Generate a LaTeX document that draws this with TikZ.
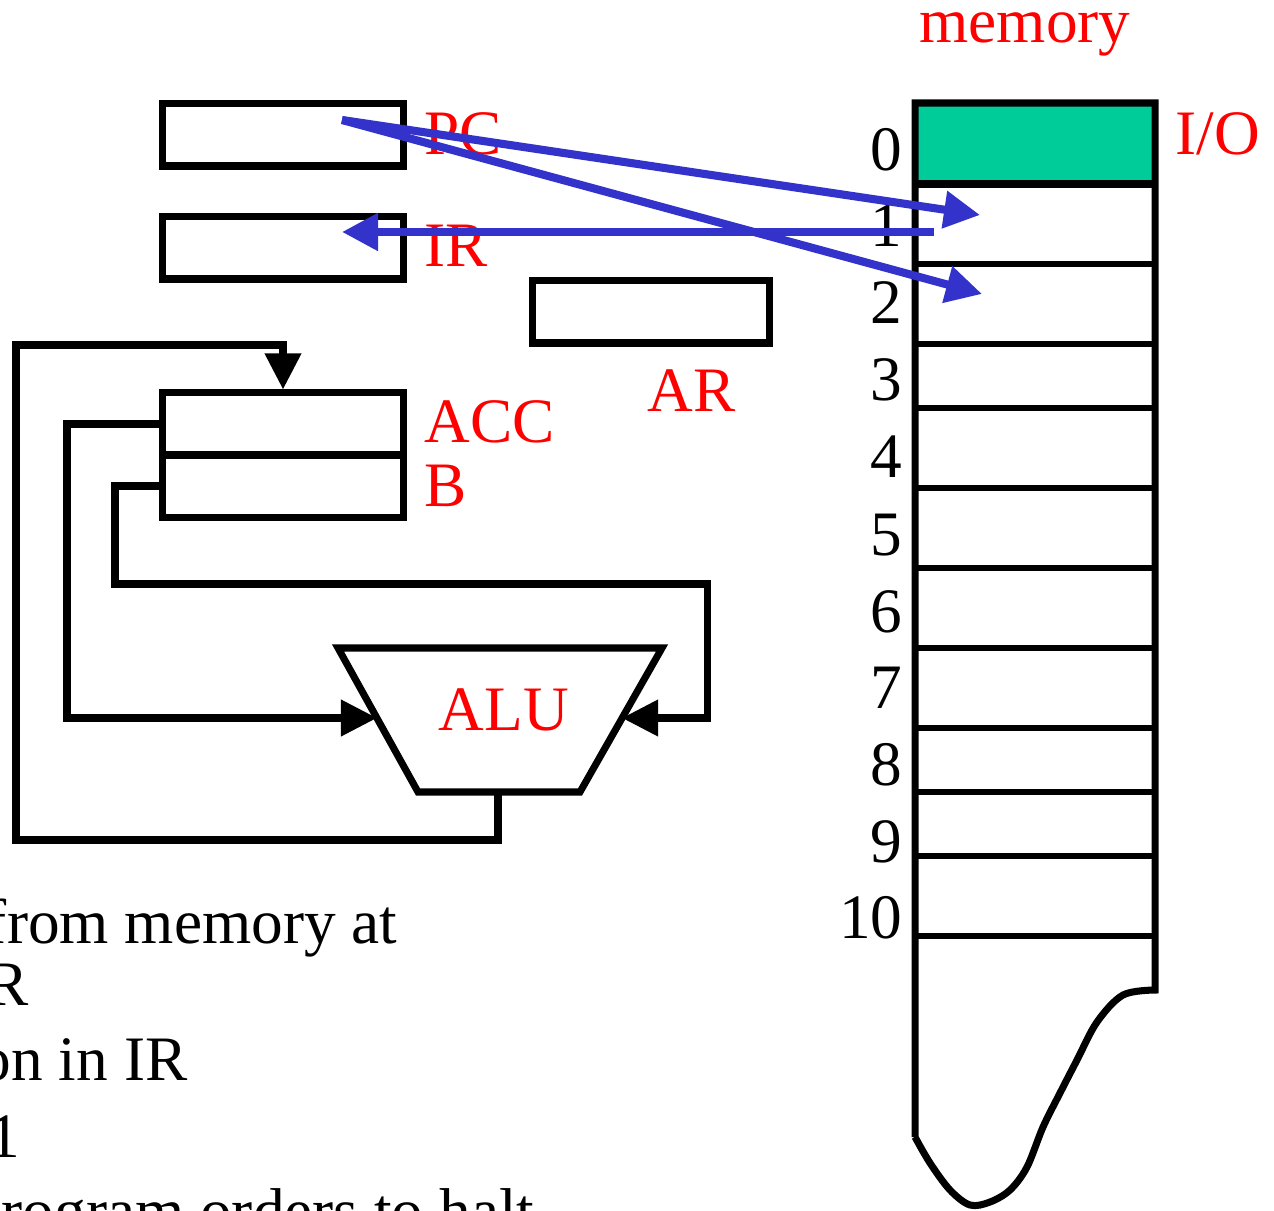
\documentclass[tikz,border=0pt]{standalone}
\usepackage{fontspec}
\setmainfont{Liberation Serif}
\usetikzlibrary{arrows.meta}
\definecolor{iogreen}{HTML}{00CC99}
\definecolor{busblue}{HTML}{3333CC}

\begin{document}
\begin{tikzpicture}[
        x=0.01cm, y=-0.01cm,
        reg/.style={draw, line width=2pt, minimum width=2.4cm, minimum height=0.62cm, inner sep=0pt},
        regname/.style={text=red, font=\fontsize{18}{22}\selectfont, anchor=base west, inner sep=0pt},
        addr/.style={font=\fontsize{18}{22}\selectfont, anchor=base east, inner sep=0pt},
        steptext/.style={font=\fontsize{18}{22}\selectfont, anchor=base east, inner sep=0pt},
        wire/.style={line width=2pt, -{Triangle[length=0.36cm, width=0.35cm]}},
        bus/.style={line width=2.3pt, busblue, -{Triangle[length=0.36cm, width=0.36cm]}},
        cellline/.style={line width=1.7pt}
    ]
        \useasboundingbox (0,0) rectangle (1274,1210);
        \clip (0,0) rectangle (1274,1210);

        % Registers
        \node[reg] (pc) at (283,135) {};
        \node[reg] (ir) at (283,248) {};
        \node[reg, minimum width=2.37cm] (ar) at (651,312) {};
        \node[reg] (acc) at (283,424) {};
        \node[reg] (b) at (283,486) {};
        \node[regname] (pclbl) at (424,155) {PC};
        \node[regname] (irlbl) at (424,267) {IR};
        \node[regname] (arlbl) at (647,412) {AR};
        \node[regname] (acclbl) at (424,443) {ACC};
        \node[regname] (blbl) at (424,507) {B};

        % ALU
        \draw[line width=2pt, line join=miter] (338,648) -- (662,648) -- (580,792) -- (418,792) -- cycle;
        \node[regname, anchor=base] (alu) at (504,730) {ALU};
        \coordinate (aluin1) at (377,718);
        \coordinate (aluin2) at (622,718);
        \coordinate (aluout) at (498,792);

        % Data paths
        \draw[wire] (aluout) -- (498,840) -- (16,840) -- (16,345) -- (283,345) -- (acc.north);
        \draw[wire] (acc.west) -- (67,424) -- (67,718) -- (aluin1);
        \draw[wire] (b.west) -- (115,486) -- (115,584) -- (707,584) -- (707,718) -- (aluin2);

        % Memory
        \fill[iogreen] (915,103) rectangle (1155,184);
        \foreach \yy in {264,344,408,488,568,648,728,792,856,936}
            \draw[cellline] (915,\yy) -- (1155,\yy);
        \draw[line width=2pt] (915,184) -- (1155,184);
        \draw[line width=2pt, line join=miter] (915,1137) -- (915,103) -- (1155,103) -- (1155,990)
            -- plot[smooth, tension=0.55] coordinates {(1155,990) (1123,995) (1097,1022) (1077,1060)
            (1060,1093) (1043,1127) (1027,1167) (1010,1190) (990,1202) (970,1205) (950,1190) (930,1163) (915,1137)};
        \foreach \n/\yy in {0/171,1/247,2/324,3/401,4/478,5/555,6/632,7/708,8/785,9/862,10/938}
            \node[addr] (n\n) at (903,\yy) {\n};
        \node[regname, anchor=base] (memlbl) at (1025,43) {memory};
        \node[regname] (iolbl) at (1175,155) {I/O};

        % Transfers
        \coordinate (pcout) at (342,120);
        \coordinate (cell1) at (980,215);
        \coordinate (cell2) at (982,294);
        \coordinate (irin) at (342,232);
        \coordinate (cell1out) at (934,232);
        \draw[bus] (pcout) -- (cell1);
        \draw[bus] (pcout) -- (cell2);
        \draw[bus] (cell1out) -- (irin);

        % Steps
        \node[steptext] (s1) at (398,943) {from memory at};
        \node[steptext] (s1b) at (29,1005) {R};
        \node[steptext] (s2) at (188,1080) {on in IR};
        \node[steptext] (s3) at (21,1157) {1};
        \node[steptext] (s4) at (535,1232) {rogram orders to halt};
    \end{tikzpicture}
\end{document}
